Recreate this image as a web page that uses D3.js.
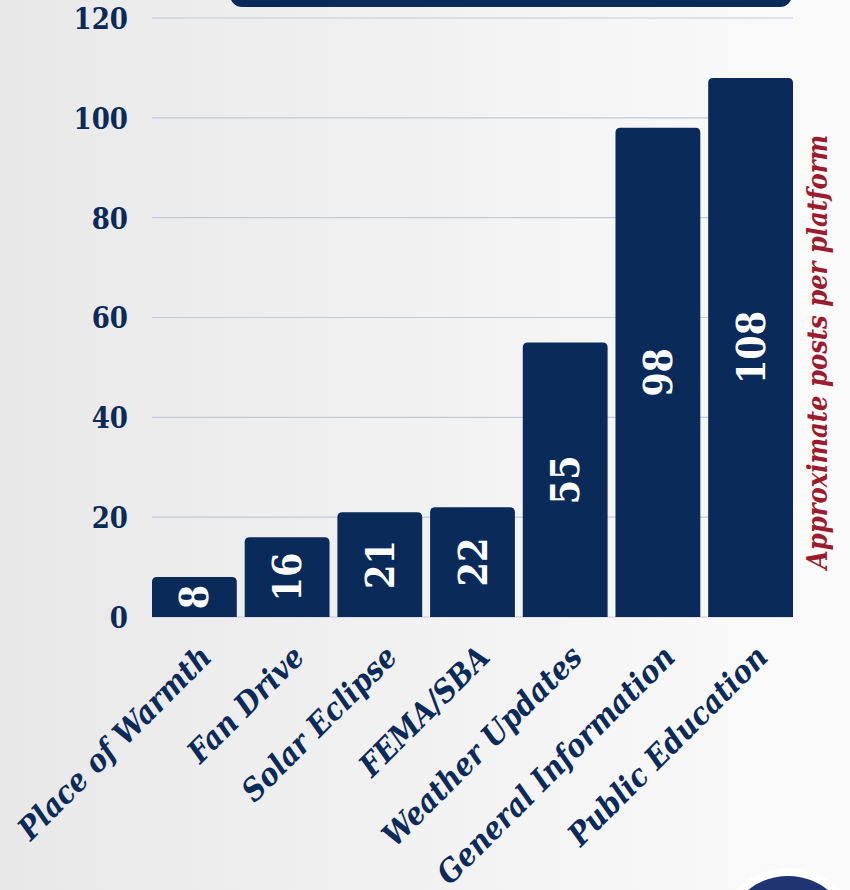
<!DOCTYPE html>
<html>
<head>
<meta charset="utf-8">
<script src="https://cdn.jsdelivr.net/npm/d3@7"></script>
<style>
  html, body { margin: 0; padding: 0; }
  svg { display: block; }
</style>
</head>
<body>
<svg id="chart"></svg>
<script>
// Data
let categories = ['Place of Warmth', 'Fan Drive', 'Solar Eclipse', 'FEMA/SBA',
  'Weather Updates', 'General Information', 'Public Education'];
let posts = [8, 16, 21, 22, 55, 98, 108];
let yTicks = [0, 20, 40, 60, 80, 100, 120];
let axisTitle = 'Approximate posts per platform';

let W = 850, H = 890;
let navy = '#0a2a5a';
let serif = '"DejaVu Serif", "Liberation Serif", serif';

let svg = d3.select('#chart')
  .attr('width', W)
  .attr('height', H)
  .attr('viewBox', `0 0 ${W} ${H}`);

// Background gradient
let defs = svg.append('defs');
let grad = defs.append('linearGradient')
  .attr('id', 'bg')
  .attr('x1', '0%').attr('x2', '100%')
  .attr('y1', '0%').attr('y2', '0%');
grad.append('stop').attr('offset', '0%').attr('stop-color', '#e8e8e8');
grad.append('stop').attr('offset', '100%').attr('stop-color', '#fbfbfb');

svg.append('rect')
  .attr('width', W).attr('height', H)
  .attr('fill', 'url(#bg)');

// Scales
let x = d3.scaleBand()
  .domain(categories)
  .range([152, 793])
  .paddingInner(0.085)
  .paddingOuter(0);

let y = d3.scaleLinear()
  .domain([0, 120])
  .range([617, 18]);

// Gridlines
svg.append('g')
  .selectAll('line')
  .data(yTicks)
  .enter()
  .append('line')
  .attr('x1', 152)
  .attr('x2', 793)
  .attr('y1', d => y(d))
  .attr('y2', d => y(d))
  .attr('stroke', '#c3c9d8')
  .attr('stroke-width', 1.2);

// Title box at top (cut off)
svg.append('rect')
  .attr('x', 230)
  .attr('y', -40)
  .attr('width', 562)
  .attr('height', 47)
  .attr('rx', 12)
  .attr('fill', navy);

// Y axis labels
let yAxis = d3.axisLeft(y)
  .tickValues(yTicks)
  .tickSize(0)
  .tickPadding(0);

svg.append('g')
  .attr('transform', 'translate(128,0)')
  .call(yAxis)
  .call(g => g.select('.domain').remove())
  .selectAll('text')
  .attr('fill', navy)
  .attr('font-family', serif)
  .attr('font-stretch', 'condensed')
  .attr('font-weight', 'bold')
  .attr('font-size', 29)
  .attr('dy', '0.36em');

// Bars with rounded top corners
function barPath(d, i) {
  let x0 = x(categories[i]);
  let w = x.bandwidth();
  let y0 = y(d);
  let y1 = y(0);
  let r = 5;
  return `M${x0},${y1} V${y0 + r} Q${x0},${y0} ${x0 + r},${y0} H${x0 + w - r} ` +
    `Q${x0 + w},${y0} ${x0 + w},${y0 + r} V${y1} Z`;
}

svg.append('g')
  .selectAll('path')
  .data(posts)
  .enter()
  .append('path')
  .attr('d', barPath)
  .attr('fill', navy);

// Value labels, rotated, centered in bar
svg.append('g')
  .selectAll('text')
  .data(posts)
  .enter()
  .append('text')
  .text(d => d)
  .attr('transform', (d, i) =>
    `translate(${x(categories[i]) + x.bandwidth() / 2},${(y(d) + y(0)) / 2}) rotate(-90)`)
  .attr('text-anchor', 'middle')
  .attr('dy', '0.36em')
  .attr('fill', 'white')
  .attr('font-family', serif)
  .attr('font-stretch', 'condensed')
  .attr('font-weight', 'bold')
  .attr('font-size', 39);

// X labels
svg.append('g')
  .selectAll('text')
  .data(categories)
  .enter()
  .append('text')
  .text(d => d)
  .attr('transform', d => `translate(${x(d) + x.bandwidth() / 2 + 19},659) rotate(-45)`)
  .attr('text-anchor', 'end')
  .attr('fill', navy)
  .attr('font-family', serif)
  .attr('font-stretch', 'condensed')
  .attr('font-style', 'italic')
  .attr('font-weight', 'bold')
  .attr('font-size', 31);

// Right axis title
svg.append('text')
  .text(axisTitle)
  .attr('transform', `translate(817,352) rotate(-90)`)
  .attr('text-anchor', 'middle')
  .attr('dy', '0.36em')
  .attr('fill', '#9b1c2e')
  .attr('font-family', serif)
  .attr('font-stretch', 'condensed')
  .attr('font-style', 'italic')
  .attr('font-weight', 'bold')
  .attr('font-size', 27);

// Seal at bottom right (cut off)
let seal = svg.append('g').attr('transform', 'translate(788,940)');
seal.append('circle').attr('r', 72).attr('fill', 'white');
seal.append('circle').attr('r', 64).attr('fill', '#1f3470');
seal.append('circle').attr('r', 46).attr('fill', 'white');
</script>
</body>
</html>
